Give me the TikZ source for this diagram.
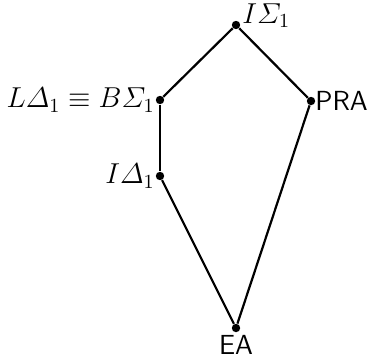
\documentclass[tikz,border=0pt]{standalone}
\usepackage{amsmath}
\begin{document}
\begin{tikzpicture}[x=0.5pt,y=-0.5pt,
  pt/.style={circle,fill=black,inner sep=0pt,minimum size=4.2pt},
  lab/.style={font=\fontsize{13.8}{16}\selectfont,inner sep=1pt},
  edge/.style={line width=1.1pt}]
\useasboundingbox (0,0) rectangle (369,360);
\node[pt] (top) at (236,25) {};
\node[pt] (lb) at (160,100) {};
\node[pt] (pra) at (311,101) {};
\node[pt] (id) at (160,176) {};
\node[pt] (ea) at (236,328) {};
\draw[edge] (top) -- (lb);
\draw[edge] (top) -- (pra);
\draw[edge,line width=1.4pt] (lb) -- (id);
\draw[edge] (id) -- (ea);
\draw[edge] (pra) -- (ea);
\node[lab,anchor=south west] (tl) at (240,30) {$I\varSigma_1$};
\node[lab,anchor=east] (lbl) at (157,100) {$L\varDelta_1\equiv B\varSigma_1$};
\node[lab,anchor=west,font=\fontsize{13.8}{16}\selectfont\sffamily] (pl) at (313,101) {PRA};
\node[lab,anchor=east] (il) at (157,176) {$I\varDelta_1$};
\node[lab,anchor=north,font=\fontsize{13.8}{16}\selectfont\sffamily] (el) at (236,333) {EA};
\end{tikzpicture}
\end{document}
